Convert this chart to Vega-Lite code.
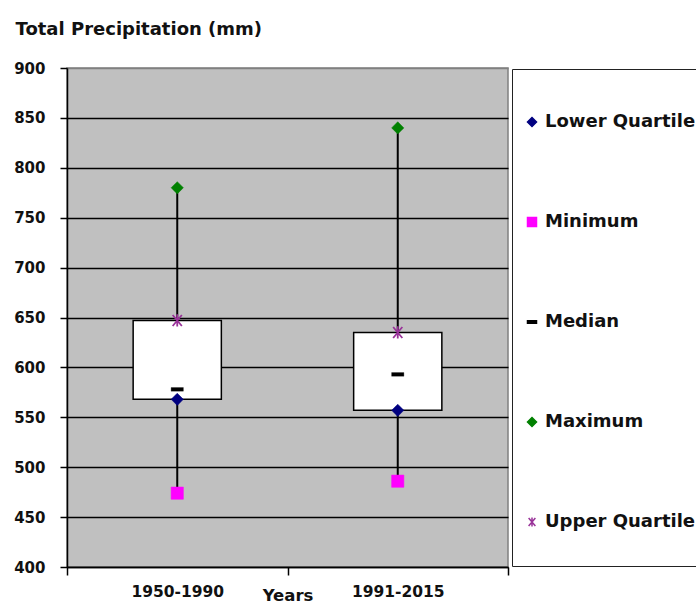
{
  "$schema": "https://vega.github.io/schema/vega-lite/v6.json",
  "width": 441,
  "height": 499,
  "autosize": {"type": "none"},
  "padding": {"left": 67, "top": 68, "right": 188, "bottom": 37},
  "background": "white",
  "config": {
    "view": {"fill": "#C0C0C0", "stroke": "#808080", "strokeWidth": 1.5},
    "font": "DejaVu Sans",
    "style": {"guide-label": {"lineHeight": 24}},
    "axis": {
      "labelFont": "DejaVu Sans", "labelFontWeight": "bold", "labelColor": "#111",
      "titleFont": "DejaVu Sans", "titleFontWeight": "bold", "titleColor": "#111",
      "domainColor": "#000", "domainWidth": 1.5, "tickColor": "#000", "tickWidth": 1.5
    },
    "legend": {
      "padding": 11, "fillColor": "white", "strokeColor": "#222",
      "symbolSize": 81, "symbolStrokeWidth": 1.5,
      "labelFont": "DejaVu Sans", "labelFontWeight": "bold", "labelFontSize": 18, "labelColor": "#111",
      "labelOffset": 4, "rowPadding": 58, "labelLimit": 300,
      "titleFontSize": 13, "titlePadding": 20
    }
  },
  "data": {"values": [
    {"period": "1950-1990", "Minimum": 474, "Lower Quartile": 568, "Median": 578, "Upper Quartile": 647, "Maximum": 780},
    {"period": "1991-2015", "Minimum": 486, "Lower Quartile": 557, "Median": 593, "Upper Quartile": 635, "Maximum": 840}
  ]},
  "layer": [
    {
      "mark": {"type": "rule", "color": "#000", "strokeWidth": 2},
      "encoding": {
        "x": {"field": "period", "type": "nominal", "sort": null,
          "scale": {"paddingInner": 0, "paddingOuter": 0},
          "axis": {"title": "Years", "labelAngle": 0, "tickBand": "extent", "tickSize": 8,
            "labelPadding": 16, "labelBaseline": "middle", "labelFontSize": 15.5,
            "titleFontSize": 16.5, "titleY": 33, "titleBaseline": "alphabetic", "grid": false}},
        "y": {"field": "Minimum", "type": "quantitative", "title": "Total Precipitation (mm)",
          "scale": {"domain": [400, 900], "nice": false, "zero": false},
          "axis": {"values": [400, 450, 500, 550, 600, 650, 700, 750, 800, 850, 900],
            "titleAngle": 0, "titleAlign": "left",
            "titleX": -52, "titleY": -34, "titleBaseline": "alphabetic", "titleFontSize": 18,
            "labelFontSize": 15, "labelPadding": 15, "tickSize": 7,
            "grid": true, "gridWidth": 1.5,
            "gridColor": {"condition": {"test": "datum.value >= 900", "value": "#808080"}, "value": "#000000"}}},
        "y2": {"field": "Maximum"}
      }
    },
    {
      "mark": {"type": "bar", "fill": "white", "stroke": "#000", "strokeWidth": 1.5, "width": {"band": 0.4}},
      "encoding": {
        "x": {"field": "period", "type": "nominal", "sort": null},
        "y": {"field": "Lower Quartile", "type": "quantitative", "title": "Total Precipitation (mm)"},
        "y2": {"field": "Upper Quartile"}
      }
    },
    {
      "transform": [{"fold": ["Lower Quartile", "Minimum", "Median", "Maximum", "Upper Quartile"], "as": ["series", "value"]}],
      "mark": {"type": "point", "filled": true, "opacity": 1},
      "encoding": {
        "x": {"field": "period", "type": "nominal", "sort": null},
        "y": {"field": "value", "type": "quantitative", "title": "Total Precipitation (mm)"},
        "shape": {"field": "series", "type": "nominal",
          "scale": {"domain": ["Lower Quartile", "Minimum", "Median", "Maximum", "Upper Quartile"],
            "range": ["diamond", "square", "M-1,-0.3L1,-0.3L1,0.3L-1,0.3Z", "diamond", "M-0.75,-0.9L0.75,0.9M-0.75,0.9L0.75,-0.9M0,-1L0,1"]},
          "legend": {"orient": "none", "legendX": 445, "legendY": 1, "title": " ",
            "labelExpr": "[datum.label, '']"}},
        "fill": {"field": "series", "type": "nominal",
          "scale": {"domain": ["Lower Quartile", "Minimum", "Median", "Maximum", "Upper Quartile"],
            "range": ["#000080", "#FF00FF", "#000000", "#008000", "#993399"]},
          "legend": {"orient": "none", "legendX": 445, "legendY": 1, "title": " ",
            "labelExpr": "[datum.label, '']"}},
        "stroke": {"field": "series", "type": "nominal",
          "scale": {"domain": ["Lower Quartile", "Minimum", "Median", "Maximum", "Upper Quartile"],
            "range": ["#000080", "#FF00FF", "#000000", "#008000", "#993399"]},
          "legend": {"orient": "none", "legendX": 445, "legendY": 1, "title": " ",
            "labelExpr": "[datum.label, '']"}},
        "size": {"value": 150},
        "strokeWidth": {"condition": [
          {"test": "datum.series === 'Median'", "value": 0.3},
          {"test": "datum.series === 'Upper Quartile'", "value": 1.8}], "value": 0.5}
      }
    }
  ]
}
